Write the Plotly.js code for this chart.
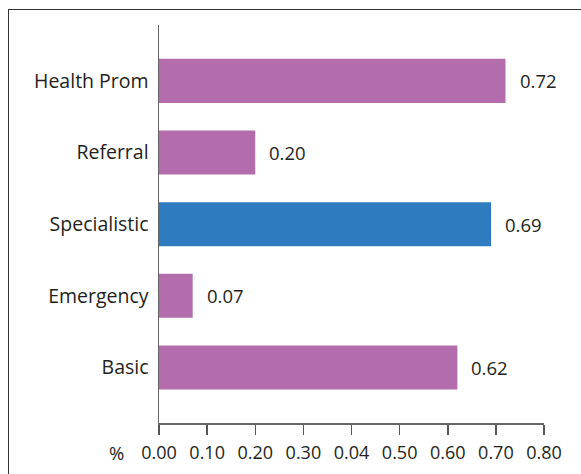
<!DOCTYPE html>
<html>
<head>
<meta charset="utf-8">
<script src="https://cdn.plot.ly/plotly-3.0.1.min.js"></script>
<style>
html,body{margin:0;padding:0;background:#fff;width:581px;height:474px;overflow:hidden;}
#frame{position:absolute;left:8px;top:9px;width:640px;height:520px;border:1.6px solid #333;box-sizing:border-box;}
#chart{position:absolute;left:0;top:0;width:581px;height:474px;}
</style>
</head>
<body>
<div id="frame"></div>
<div id="chart"></div>
<script>
const categories = ["Basic", "Emergency", "Specialistic", "Referral", "Health Prom"];
const values = [0.62, 0.07, 0.69, 0.20, 0.72];
const valueLabels = ["0.62", "0.07", "0.69", "0.20", "0.72"];
const barColors = ["#B36DAC", "#B36DAC", "#2F7BBF", "#B36DAC", "#B36DAC"];
const xTickVals = [0, 0.1, 0.2, 0.3, 0.4, 0.5, 0.6, 0.7, 0.8];
const xTickText = ["0.00", "0.10", "0.20", "0.30", "0.04", "0.50", "0.60", "0.70", "0.80"];
const unitLabel = "%";

const font = "'Open Sans', sans-serif";
const textColor = "#231F20";

const trace = {
  type: "bar",
  orientation: "h",
  y: categories,
  x: values,
  marker: {color: barColors},
  width: 0.615,
  hoverinfo: "none"
};

const annotations = categories.map((c, i) => ({
  x: values[i], y: c, xref: "x", yref: "y",
  text: valueLabels[i], showarrow: false,
  xanchor: "left", yanchor: "middle", xshift: 12,
  font: {family: font, size: 18.5, color: textColor}
}));
annotations.push({
  x: 0, y: 0, xref: "x", yref: "paper",
  text: unitLabel, showarrow: false,
  xanchor: "right", yanchor: "middle", xshift: -33, yshift: -29,
  font: {family: font, size: 18.5, color: textColor}
});

const layout = {
  width: 581, height: 474,
  margin: {l: 159, r: 37, t: 25, b: 51},
  paper_bgcolor: "rgba(0,0,0,0)",
  plot_bgcolor: "rgba(0,0,0,0)",
  showlegend: false,
  font: {family: font, size: 18, color: textColor},
  xaxis: {
    range: [0, 0.8],
    tickvals: xTickVals, ticktext: xTickText,
    showgrid: false, zeroline: false,
    showline: true, linecolor: "#666", linewidth: 1.5,
    ticks: "outside", ticklen: 10, tickwidth: 1.5, tickcolor: "#555",
    ticklabelstandoff: 3,
    tickfont: {family: font, size: 18, color: textColor}
  },
  yaxis: {
    type: "category",
    categoryorder: "array", categoryarray: categories,
    range: [-0.775, 4.78],
    showgrid: false, zeroline: false,
    showline: true, linecolor: "#666", linewidth: 1.5,
    ticks: "", ticklabelstandoff: 5,
    tickfont: {family: font, size: 19.5, color: textColor}
  },
  annotations: annotations
};

Plotly.newPlot("chart", [trace], layout, {staticPlot: true, displayModeBar: false});
</script>
</body>
</html>
